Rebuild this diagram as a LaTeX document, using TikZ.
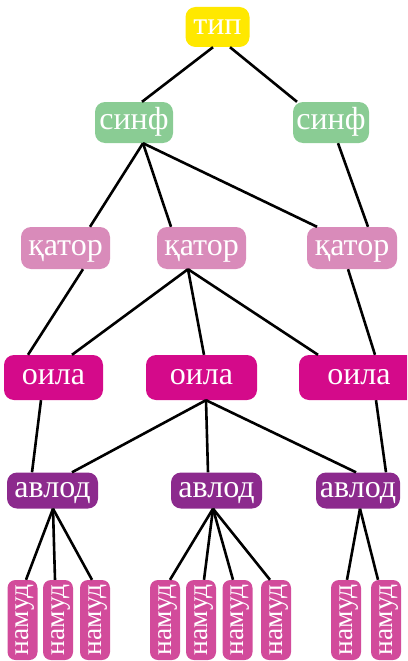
\documentclass[tikz,border=0pt]{standalone}
\usepackage{fontspec}
\setmainfont{Liberation Serif}
\usetikzlibrary{calc}
\definecolor{cTip}{HTML}{FFE800}
\definecolor{cSinf}{HTML}{8ACC94}
\definecolor{cQator}{HTML}{D98BBA}
\definecolor{cOila}{HTML}{D40A8A}
\definecolor{cAvlod}{HTML}{8C2A8D}
\definecolor{cNamud}{HTML}{D24B9B}
\begin{document}
\begin{tikzpicture}[x=1pt,y=-1pt,
  box/.style={rounded corners=10pt, inner sep=0pt, text=white,
    font=\fontsize{32}{38}\selectfont, text height=14.7pt, text depth=0pt},
  nbox/.style={rounded corners=8pt, inner sep=0pt, text=white, fill=cNamud,
    font=\fontsize{27.5}{32}\selectfont, text height=12.6pt, text depth=0pt,
    minimum width=80pt, minimum height=30pt, rotate=90},
  link/.style={line width=2.6pt, black}]
\useasboundingbox (0,0) rectangle (407,661);
\clip (0,0) rectangle (407,661);
% level 0
\node[box, fill=cTip, minimum width=64pt, minimum height=40pt] (tip) at (217.5,27) {тип};
% level 1
\node[box, fill=cSinf, minimum width=78pt, minimum height=41pt] (sinfL) at (134,122.5) {синф};
\node[box, fill=cSinf, minimum width=76pt, minimum height=41pt] (sinfR) at (331,122.5) {синф};
% level 2
\node[box, fill=cQator, minimum width=89pt, minimum height=42pt] (qL) at (65.5,248) {қатор};
\node[box, fill=cQator, minimum width=89pt, minimum height=42pt] (qM) at (201.5,248) {қатор};
\node[box, fill=cQator, minimum width=90pt, minimum height=42pt] (qR) at (352,248) {қатор};
% level 3
\node[box, fill=cOila, minimum width=99pt, minimum height=45pt] (oL) at (53.5,377.5) {оила};
\node[box, fill=cOila, minimum width=111pt, minimum height=45pt] (oM) at (201.5,377.5) {оила};
\node[box, fill=cOila, minimum width=120pt, minimum height=45pt] (oR) at (359,377.5) {оила};
% level 4
\node[box, fill=cAvlod, minimum width=91pt, minimum height=36pt] (aL) at (52.5,490.5) {авлод};
\node[box, fill=cAvlod, minimum width=91pt, minimum height=36pt] (aM) at (216.5,490.5) {авлод};
\node[box, fill=cAvlod, minimum width=84pt, minimum height=36pt] (aR) at (358,490.5) {авлод};
% level 5
\node[nbox] (n1) at (22.5,620) {намуд};
\node[nbox] (n2) at (58,620) {намуд};
\node[nbox] (n3) at (95,620) {намуд};
\node[nbox] (n4) at (165,620) {намуд};
\node[nbox] (n5) at (201,620) {намуд};
\node[nbox] (n6) at (237.5,620) {намуд};
\node[nbox] (n7) at (276,620) {намуд};
\node[nbox] (n8) at (346,620) {намуд};
\node[nbox] (n9) at (386,620) {намуд};
% connectors
\draw[link] ($(tip.south)+(-4.5,0)$) -- ($(sinfL.north)+(8,0)$);
\draw[link] ($(tip.south)+(12.5,0)$) -- ($(sinfR.north)+(-34,0)$);
\draw[link] ($(sinfL.south)+(9,0)$) -- ($(qL.north)+(24.5,0)$);
\draw[link] ($(sinfL.south)+(9,0)$) -- ($(qM.north)+(-30.5,0)$);
\draw[link] ($(sinfL.south)+(9,0)$) -- ($(qR.north)+(-35,0)$);
\draw[link] ($(sinfR.south)+(7,0)$) -- ($(qR.north)+(16,0)$);
\draw[link] ($(qL.south)+(17.5,0)$) -- ($(oL.north)+(-25.5,0)$);
\draw[link] ($(qM.south)+(-13.5,0)$) -- ($(oL.north)+(18.5,0)$);
\draw[link] ($(qM.south)+(-13.5,0)$) -- ($(oM.north)+(2.5,0)$);
\draw[link] ($(qM.south)+(-13.5,0)$) -- ($(oR.north)+(-41,0)$);
\draw[link] ($(qR.south)+(-4,0)$) -- ($(oR.north)+(16,0)$);
\draw[link] ($(oL.south)+(-12.5,0)$) -- ($(aL.north)+(-20.5,0)$);
\draw[link] ($(oM.south)+(4.5,0)$) -- ($(aL.north)+(19.5,0)$);
\draw[link] ($(oM.south)+(4.5,0)$) -- ($(aM.north)+(-8.5,0)$);
\draw[link] ($(oM.south)+(4.5,0)$) -- ($(aR.north)+(-2,0)$);
\draw[link] ($(oR.south)+(17,0)$) -- ($(aR.north)+(28,0)$);
\draw[link] ($(aL.south)+(0.5,0)$) -- ($(n1.east)+(3.5,0)$);
\draw[link] ($(aL.south)+(0.5,0)$) -- ($(n2.east)+(-3,0)$);
\draw[link] ($(aL.south)+(0.5,0)$) -- ($(n3.east)+(-3,0)$);
\draw[link] ($(aM.south)+(-3.5,0)$) -- ($(n4.east)+(5,0)$);
\draw[link] ($(aM.south)+(-3.5,0)$) -- ($(n5.east)+(3,0)$);
\draw[link] ($(aM.south)+(-3.5,0)$) -- ($(n6.east)+(-4.5,0)$);
\draw[link] ($(aM.south)+(-3.5,0)$) -- ($(n7.east)+(-6,0)$);
\draw[link] ($(aR.south)+(2,0)$) -- ($(n8.east)+(1,0)$);
\draw[link] ($(aR.south)+(2,0)$) -- ($(n9.east)+(-8,0)$);
\end{tikzpicture}
\end{document}
